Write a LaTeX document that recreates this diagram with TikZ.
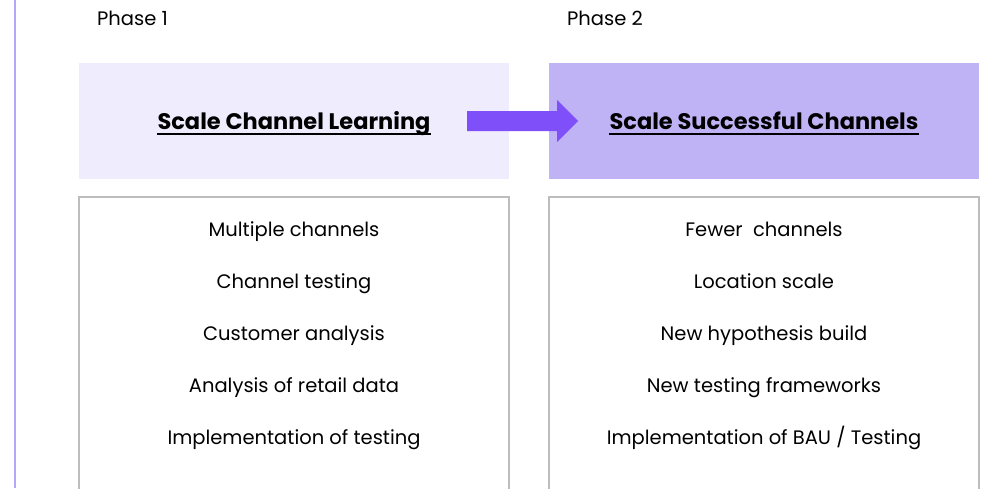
\documentclass[tikz,border=0pt]{standalone}
\usepackage{fontspec}
\setmainfont{Poppins}
\definecolor{railc}{HTML}{B3A8F7}
\definecolor{paleband}{HTML}{EFECFD}
\definecolor{deepband}{HTML}{BFB3F5}
\definecolor{arrowc}{HTML}{7F50FA}
\definecolor{framec}{HTML}{BDBDBD}
\begin{document}
\begin{tikzpicture}[x=1pt,y=-1pt,
  phase/.style={anchor=base west,font=\fontsize{19.5}{22}\selectfont,inner sep=0pt},
  band/.style={draw=none,minimum width=430pt,minimum height=116pt,anchor=north west,inner sep=0pt},
  title/.style={anchor=base,font=\fontsize{22.5}{26}\selectfont\bfseries,inner sep=0pt},
  uline/.style={line width=1.8pt},
  frame/.style={framec,line width=1.5pt},
  item/.style={anchor=base,font=\fontsize{19.5}{22}\selectfont,inner sep=0pt}]
\useasboundingbox (0,0) rectangle (984,488);
% left rail
\draw[railc,line width=2pt] (15,0) -- (15,488);
% phase labels
\node[phase] (p1) at (97,25) {Phase 1};
\node[phase] (p2) at (567,25) {Phase 2};
% header bands
\node[band,fill=paleband] (b1) at (79,63) {};
\node[band,fill=deepband] (b2) at (549,63) {};
\node[title] (t1) at (294,129) {Scale Channel Learning};
\node[title] (t2) at (764,129) {Scale Successful Channels};
% underlines just below the baseline
\draw[uline] ([yshift=-5pt]t1.base west) -- ([yshift=-5pt]t1.base east);
\draw[uline] ([yshift=-5pt]t2.base west) -- ([yshift=-5pt]t2.base east);
% arrow between bands
\coordinate (a0) at (467,121);
\fill[arrowc] (a0) ++(0,-10) -- ++(90,0) -- ++(0,-11) -- ++(21,21) -- ++(-21,21) -- ++(0,-11) -- ++(-90,0) -- cycle;
% open frames below the bands
\draw[frame] (79,490) -- (79,197) -- (509,197) -- (509,490);
\draw[frame] (549,490) -- (549,197) -- (979,197) -- (979,490);
% items
\foreach \t [count=\i] in {Multiple channels,Channel testing,Customer analysis,Analysis of retail data,Implementation of testing}
  \node[item] (l\i) at (294,184+52*\i) {\t};
\foreach \t [count=\i] in {Fewer\ \ channels,Location scale,New hypothesis build,New testing frameworks,Implementation of BAU / Testing}
  \node[item] (r\i) at (764,184+52*\i) {\t};
\end{tikzpicture}
\end{document}
